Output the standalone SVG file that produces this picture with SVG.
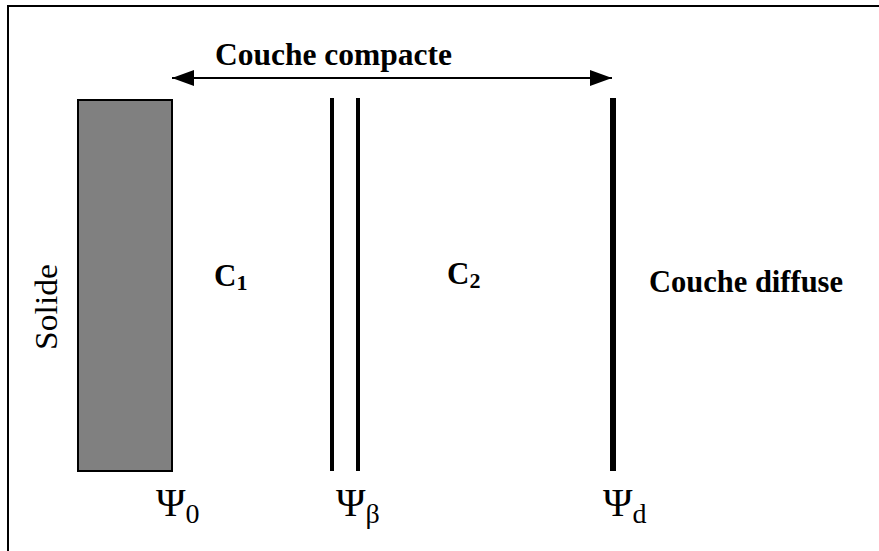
<svg xmlns="http://www.w3.org/2000/svg" width="879" height="551" viewBox="0 0 879 551">
<style>
  .bold { font-family: "Liberation Serif", "Times New Roman", serif; font-weight: bold; fill: #000; }
  .reg { font-family: "Liberation Serif", "Times New Roman", serif; fill: #000; }
  .plane { stroke: #000; fill: none; }
</style>
<defs>
  <marker id="ah" viewBox="0 0 22 16" refX="22" refY="8" markerWidth="22" markerHeight="16" markerUnits="userSpaceOnUse" orient="auto-start-reverse">
    <path d="M0,0 L22,8 L0,16 Z" fill="#000"/>
  </marker>
</defs>
<rect x="0" y="0" width="879" height="551" fill="#fff"/>
<rect id="frame" x="8" y="6" width="900" height="600" fill="none" stroke="#000" stroke-width="2"/>

<g id="solide">
  <rect x="78" y="100" width="94" height="371" fill="#808080" stroke="#000" stroke-width="2"/>
  <text class="reg" font-size="31" transform="translate(57,350) rotate(-90)" textLength="86" lengthAdjust="spacingAndGlyphs">Solide</text>
</g>

<g id="plane-beta">
  <line class="plane" x1="332" y1="98" x2="332" y2="471" stroke-width="4"/>
  <line class="plane" x1="358" y1="98" x2="358" y2="471" stroke-width="4"/>
</g>

<g id="plane-d">
  <line class="plane" x1="613" y1="98" x2="613" y2="471" stroke-width="6"/>
</g>

<g id="connectors">
  <line x1="172" y1="78" x2="612" y2="78" stroke="#000" stroke-width="2" marker-start="url(#ah)" marker-end="url(#ah)"/>
</g>

<g id="label-compacte">
  <text class="bold" font-size="31.5" x="215" y="65">Couche compacte</text>
</g>

<g id="label-c1">
  <text class="bold" font-size="31" x="214" y="286">C<tspan font-size="22" dy="4">1</tspan></text>
</g>

<g id="label-c2">
  <text class="bold" font-size="31" x="447" y="284">C<tspan font-size="22" dy="4">2</tspan></text>
</g>

<g id="label-diffuse">
  <text class="bold" font-size="30.5" x="649" y="292">Couche diffuse</text>
</g>

<g id="psi-0">
  <text class="reg" font-size="40" x="156" y="516">Ψ<tspan font-size="28" dy="7">0</tspan></text>
</g>
<g id="psi-beta">
  <text class="reg" font-size="40" x="336" y="516">Ψ<tspan font-size="28" dy="7">β</tspan></text>
</g>
<g id="psi-d">
  <text class="reg" font-size="40" x="603" y="516">Ψ<tspan font-size="28" dy="7">d</tspan></text>
</g>
</svg>
